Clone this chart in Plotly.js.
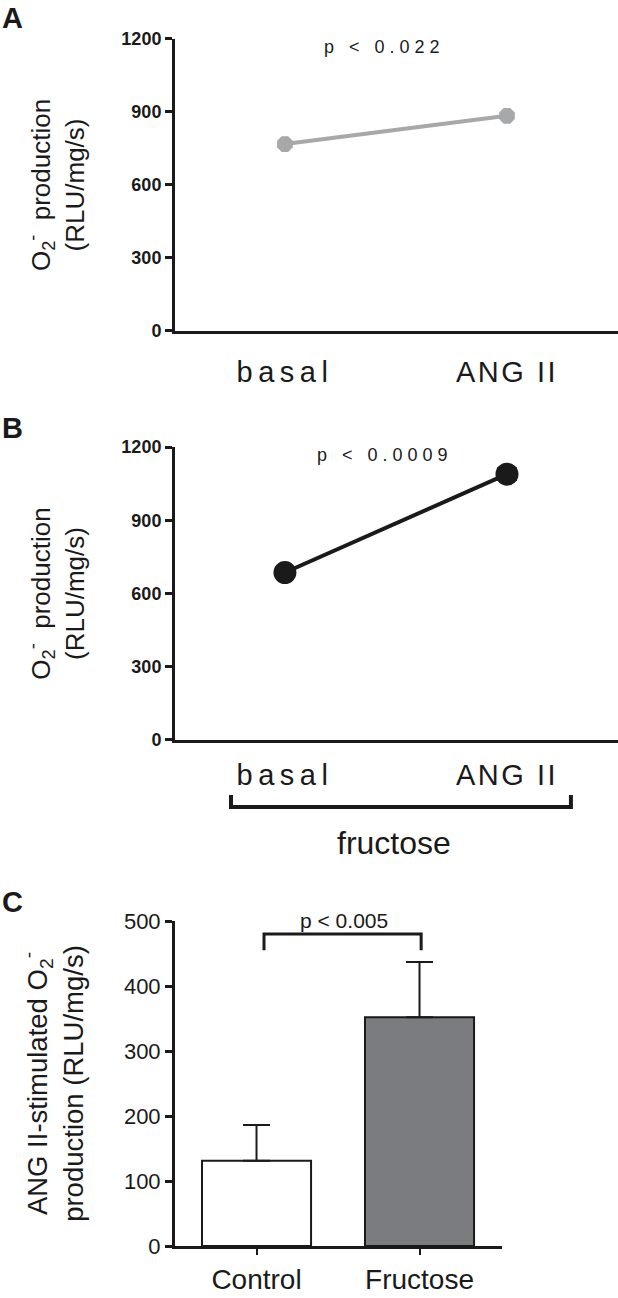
<!DOCTYPE html>
<html>
<head>
<meta charset="utf-8">
<script src="https://cdn.plot.ly/plotly-3.0.1.min.js"></script>
<style>
  body { margin: 0; background: #fff; }
  #grafico { width: 618px; height: 1298px; }
</style>
</head>
<body>
<div id="grafico"></div>
<script>
    // datos
    var condiciones = ["basal", "ANG II"];
    var etiquetasCond = ['<span style="letter-spacing:5.5px">basal</span>', '<span style="letter-spacing:2.5px">ANG II</span>'];
    var controlO2 = [768, 884];
    var controlSem = [10, 12];
    var fructosaO2 = [686, 1089];
    var fructosaSem = [12, 22];

    var grupos = ["Control", "Fructose"];
    var angEstimulado = [131, 352];
    var angEstimuladoSem = [55, 85];

    var ticksAB = [0, 300, 600, 900, 1200];
    var ticksC = [0, 100, 200, 300, 400, 500];

    var fuente = "Liberation Sans, Arial, sans-serif";
    var negro = "#1a1a1a";
    var gris = "#a7a8aa";

    // panel A
    var trazaA = {
        x: condiciones, y: controlO2,
        xaxis: "x", yaxis: "y",
        type: "scatter", mode: "lines+markers",
        line: { color: gris, width: 4 },
        marker: { color: gris, size: 17, symbol: "octagon" },
        error_y: { type: "data", array: controlSem, color: gris, thickness: 2, width: 7 },
        cliponaxis: false
    };

    // panel B
    var trazaB = {
        x: condiciones, y: fructosaO2,
        xaxis: "x2", yaxis: "y2",
        type: "scatter", mode: "lines+markers",
        line: { color: negro, width: 4 },
        marker: { color: negro, size: 23, symbol: "circle" },
        error_y: { type: "data", array: fructosaSem, color: negro, thickness: 3, width: 10 },
        cliponaxis: false
    };

    // panel C
    var trazaC = {
        x: grupos, y: angEstimulado,
        xaxis: "x3", yaxis: "y3",
        type: "bar", width: 0.669,
        marker: { color: ["#ffffff", "#7b7c80"], line: { color: negro, width: 2 } },
        error_y: { type: "data", symmetric: false, array: angEstimuladoSem, arrayminus: [0, 0], color: negro, thickness: 2, width: 13.5 }
    };

    function ejeY(dominio, rango, vals, negrita, tam, titulo, tamTitulo, separacion) {
        return {
            domain: dominio, range: rango, tickvals: vals,
            showline: true, linewidth: 3, linecolor: negro,
            ticks: "outside", ticklen: 7, tickwidth: 3, tickcolor: negro,
            tickfont: { family: fuente, size: tam, color: negro, weight: negrita ? "bold" : "normal" },
            showgrid: false, zeroline: false, fixedrange: true,
            title: { text: titulo, font: { family: fuente, size: tamTitulo, color: negro }, standoff: separacion }
        };
    }

    var tituloO2 = "O<sub>2</sub><sup>-</sup>  production<br>(RLU/mg/s)";

    var layout = {
        width: 618, height: 1298,
        margin: { l: 0, r: 0, t: 0, b: 0 },
        paper_bgcolor: "#fff", plot_bgcolor: "#fff",
        showlegend: false,
        xaxis: {
            domain: [0.2832, 1], anchor: "y", range: [-0.495, 1.5],
            tickvals: condiciones, ticktext: etiquetasCond,
            showline: true, linewidth: 3, linecolor: negro, ticks: "",
            tickfont: { family: fuente, size: 29, color: negro },
            ticklabelstandoff: 13,
            showgrid: false, zeroline: false, fixedrange: true
        },
        yaxis: ejeY([0.7450, 0.9700], [0, 1200], ticksAB, true, 18, tituloO2, 26, 30),
        xaxis2: {
            domain: [0.2832, 1], anchor: "y2", range: [-0.495, 1.5],
            tickvals: condiciones, ticktext: etiquetasCond,
            showline: true, linewidth: 3, linecolor: negro, ticks: "",
            tickfont: { family: fuente, size: 29, color: negro },
            ticklabelstandoff: 7,
            showgrid: false, zeroline: false, fixedrange: true
        },
        yaxis2: ejeY([0.4299, 0.6556], [0, 1200], ticksAB, true, 18, tituloO2, 26, 30),
        xaxis3: {
            domain: [0.2832, 0.8123], anchor: "y3", range: [-0.5, 1.506],
            showline: true, linewidth: 3, linecolor: negro,
            ticks: "outside", ticklen: 6, tickwidth: 2, tickcolor: negro,
            tickfont: { family: fuente, size: 28, color: negro },
            ticklabelstandoff: 0,
            showgrid: false, zeroline: false, fixedrange: true
        },
        yaxis3: ejeY([0.04006, 0.2904], [0, 500], ticksC, false, 22,
            "ANG II-stimulated O<sub>2</sub><sup>-</sup><br>production (RLU/mg/s)", 27.5, 33),
        shapes: [
            // corchete fructose
            { type: "path", xref: "x2", yref: "paper",
              path: "M -0.243 0.3875 L -0.243 0.3783 L 1.288 0.3783 L 1.288 0.3875",
              line: { color: negro, width: 4 } },
            // corchete p < 0.005
            { type: "path", xref: "x3", yref: "y3",
              path: "M 0.046 455 L 0.046 480 L 1.01 480 L 1.01 455",
              line: { color: negro, width: 3 } }
        ],
        annotations: [
            { text: "<b>A</b>", xref: "paper", yref: "paper", x: 0, y: 0.986, xanchor: "left", yanchor: "middle",
              showarrow: false, font: { family: fuente, size: 29, color: negro } },
            { text: "<b>B</b>", xref: "paper", yref: "paper", x: 0, y: 0.6703, xanchor: "left", yanchor: "middle",
              showarrow: false, font: { family: fuente, size: 29, color: negro } },
            { text: "<b>C</b>", xref: "paper", yref: "paper", x: 0, y: 0.3051, xanchor: "left", yanchor: "middle",
              showarrow: false, font: { family: fuente, size: 29, color: negro } },
            { text: '<span style="letter-spacing:5px">p < 0.022</span>', xref: "x", yref: "y", x: 0.45, y: 1167,
              showarrow: false, font: { family: fuente, size: 18, color: negro } },
            { text: '<span style="letter-spacing:5px">p < 0.0009</span>', xref: "x2", yref: "y2", x: 0.45, y: 1167,
              showarrow: false, font: { family: fuente, size: 18, color: negro } },
            { text: "fructose", xref: "x2", yref: "paper", x: 0.491, y: 0.3505, yanchor: "middle",
              showarrow: false, font: { family: fuente, size: 32, color: negro } },
            { text: "p < 0.005", xref: "x3", yref: "paper", x: 0.537, y: 0.2912, yanchor: "middle",
              showarrow: false, font: { family: fuente, size: 21, color: negro } }
        ]
    };

    Plotly.newPlot("grafico", [trazaA, trazaB, trazaC], layout, { staticPlot: true });
</script>
</body>
</html>
